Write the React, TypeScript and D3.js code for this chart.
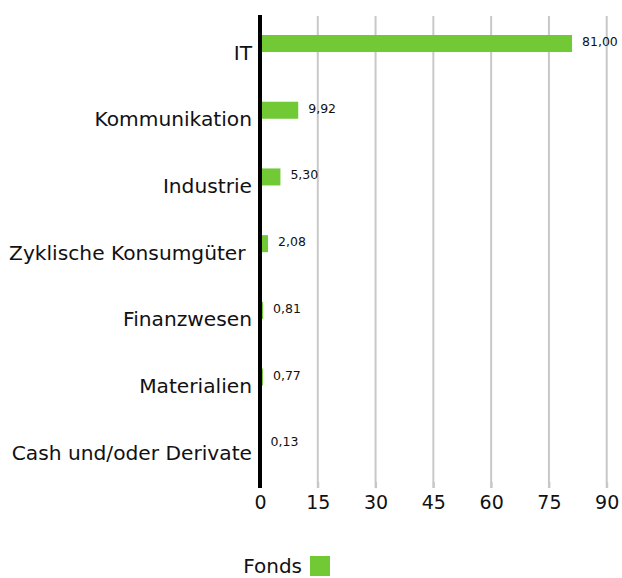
import { useEffect, useRef } from "react";
import * as d3 from "d3";

const categories = [
  "IT",
  "Kommunikation",
  "Industrie",
  "Zyklische Konsumgüter ",
  "Finanzwesen",
  "Materialien",
  "Cash und/oder Derivate",
];
const fondsValues = [81.0, 9.92, 5.3, 2.08, 0.81, 0.77, 0.13];
const tickValues = [0, 15, 30, 45, 60, 75, 90];
const seriesName = "Fonds";

const WIDTH = 622;
const HEIGHT = 578;
const GREEN = "#70c935";
const FONT = "'DejaVu Sans', 'Noto Sans', sans-serif";

export default function App() {
  const svgRef = useRef<SVGSVGElement>(null);

  useEffect(() => {
    if (!svgRef.current) return;
    const svg = d3.select(svgRef.current);
    svg.selectAll("*").remove();

    const top = 15;
    const bottom = 482;

    const x = d3.scaleLinear().domain([0, 90]).range([260, 606.7]);
    const y = d3.scaleBand<string>().domain(categories).range([top, bottom]).padding(0);
    const step = y.step();

    // gridlines
    svg.append("g")
      .selectAll("line")
      .data(tickValues.filter(t => t > 0))
      .join("line")
      .attr("x1", d => x(d))
      .attr("x2", d => x(d))
      .attr("y1", top + 1)
      .attr("y2", bottom + 6)
      .attr("stroke", "#c8c8c8")
      .attr("stroke-width", 2);

    // bars
    const rows = categories.map((c, i) => ({ cat: c, value: fondsValues[i] }));
    svg.append("g")
      .selectAll("rect")
      .data(rows)
      .join("rect")
      .attr("x", x(0))
      .attr("y", d => y(d.cat)! + step * 0.3)
      .attr("width", d => x(d.value) - x(0))
      .attr("height", step * 0.255)
      .attr("fill", GREEN);

    // value labels
    svg.append("g")
      .selectAll("text")
      .data(rows)
      .join("text")
      .attr("x", d => x(d.value) + 10)
      .attr("y", d => y(d.cat)! + step * 0.3 + step * 0.1275 - 1)
      .attr("dominant-baseline", "middle")
      .attr("font-family", FONT)
      .attr("font-size", 12.5)
      .attr("fill", "#111")
      .text(d => d3.format(".2f")(d.value).replace(".", ","));

    // category labels
    svg.append("g")
      .selectAll("text")
      .data(categories)
      .join("text")
      .attr("x", 252)
      .attr("y", d => y(d)! + 39)
      .attr("text-anchor", "end")
      .attr("dominant-baseline", "middle")
      .attr("font-family", FONT)
      .attr("font-size", 20.2)
      .attr("fill", "#111")
      .style("white-space", "pre")
      .text(d => d);

    // bottom axis
    const axis = d3.axisBottom(x).tickValues(tickValues).tickSize(6).tickPadding(8)
      .tickFormat(d => String(d));
    const g = svg.append("g").attr("transform", `translate(0,${bottom})`).call(axis);
    g.select(".domain").remove();
    g.selectAll(".tick line").attr("stroke", "#c8c8c8").attr("stroke-width", 2);
    g.selectAll(".tick text")
      .attr("font-family", FONT)
      .attr("font-size", 19)
      .attr("fill", "#111");

    // vertical axis line
    svg.append("line")
      .attr("x1", x(0))
      .attr("x2", x(0))
      .attr("y1", top)
      .attr("y2", bottom + 6)
      .attr("stroke", "#000")
      .attr("stroke-width", 4);

    // legend
    svg.append("text")
      .attr("x", 302)
      .attr("y", 573)
      .attr("text-anchor", "end")
      .attr("font-family", FONT)
      .attr("font-size", 20)
      .attr("fill", "#111")
      .text(seriesName);
    svg.append("rect")
      .attr("x", 310)
      .attr("y", 556)
      .attr("width", 20)
      .attr("height", 20)
      .attr("fill", GREEN);
  }, []);

  return (
    <svg
      ref={svgRef}
      width={WIDTH}
      height={HEIGHT}
      style={{ position: "absolute", left: 0, top: 0, background: "#fff" }}
    />
  );
}
